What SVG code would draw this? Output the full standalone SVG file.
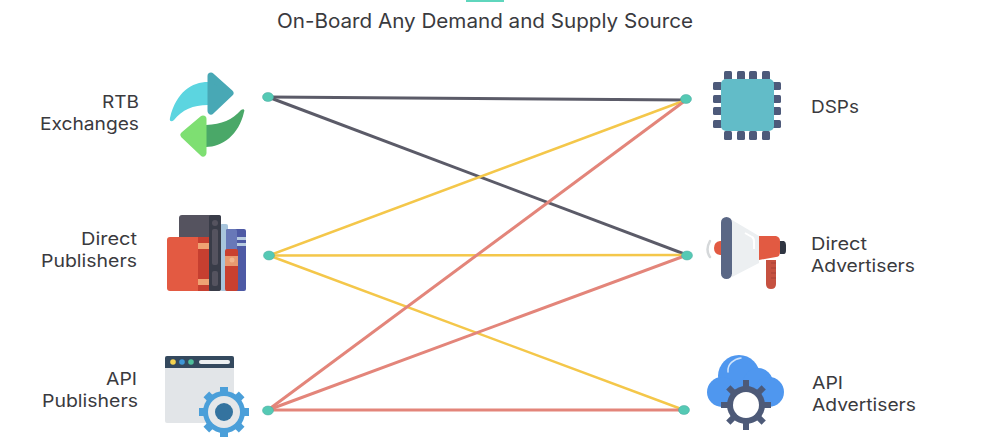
<svg xmlns="http://www.w3.org/2000/svg" width="1000" height="445" viewBox="0 0 1000 445">
<style>
text{font-family:Inter,"Open Sans","Liberation Sans",sans-serif;fill:#3a3a3e}
.t{font-size:17.500px}
.c{fill:none;stroke-width:2.500}
.g{stroke:#5b5b68;stroke-width:3}.y{stroke:#f4c74a}.r{stroke:#e3857a;stroke-width:3}
.d{fill:#55c9b4;stroke:#4aa8a0;stroke-width:.5}
.pin{fill:#4d5a7a}
</style>
<rect width="1000" height="445" fill="#fff"/>
<rect x="466" y="0" width="38" height="2" fill="#5fd6bd"/>
<text id="title" x="277" y="28" font-size="20" textLength="416" lengthAdjust="spacingAndGlyphs">On-Board Any Demand and Supply Source</text>
<g id="connectors">
<line class="c g" x1="268" y1="97" x2="686" y2="100"/>
<line class="c g" x1="268" y1="97" x2="687" y2="255"/>
<line class="c y" x1="269" y1="255.500" x2="686" y2="100"/>
<line class="c y" x1="269" y1="255.500" x2="687" y2="255"/>
<line class="c y" x1="269" y1="255.500" x2="684" y2="410"/>
<line class="c r" x1="268" y1="410" x2="686" y2="100"/>
<line class="c r" x1="268" y1="410" x2="687" y2="255"/>
<line class="c r" x1="268" y1="410" x2="684" y2="410"/>
<ellipse class="d" cx="268" cy="97" rx="5.500" ry="4.500"/>
<ellipse class="d" cx="269" cy="255.500" rx="5.500" ry="4.500"/>
<ellipse class="d" cx="268" cy="410.500" rx="5.500" ry="4.500"/>
<ellipse class="d" cx="686" cy="99" rx="5.500" ry="4.500"/>
<ellipse class="d" cx="687" cy="255.500" rx="5.500" ry="4.500"/>
<ellipse class="d" cx="684" cy="410" rx="5.500" ry="4.500"/>
</g>
<g id="rtb">
<text class="t" x="102" y="108" textLength="37" lengthAdjust="spacingAndGlyphs">RTB</text>
<text class="t" x="40" y="130" textLength="99" lengthAdjust="spacingAndGlyphs">Exchanges</text>
<path d="M208 82C192 82 176 92 170 118C169 122 172 122 174 120C182 110 193 105 208 105Z" fill="#5cd5e0"/>
<path d="M211 76L230 93L211 111Z" fill="#48a8b5" stroke="#48a8b5" stroke-width="7" stroke-linejoin="round"/>
<path d="M206 125C222 124 232 120 241 110C244 108 245 110 244 112C239 135 222 147 206 147Z" fill="#4aa868"/>
<path d="M203 119L184 135L203 153Z" fill="#7edf72" stroke="#7edf72" stroke-width="7" stroke-linejoin="round"/>
</g>
<g id="direct-publishers">
<text class="t" x="81" y="245" textLength="56" lengthAdjust="spacingAndGlyphs">Direct</text>
<text class="t" x="41" y="267" textLength="96" lengthAdjust="spacingAndGlyphs">Publishers</text>
<rect x="220" y="224" width="8" height="67" rx="2" fill="#a8c5dc"/>
<rect x="226" y="229" width="20" height="62" rx="2" fill="#4e5aa5"/>
<rect x="226" y="229" width="11" height="62" rx="2" fill="#6878b8"/>
<rect x="237" y="237" width="9" height="3" fill="#b8cce0"/><rect x="237" y="243" width="9" height="3" fill="#b8cce0"/>
<rect x="225" y="249" width="13" height="42" rx="2" fill="#c9402f"/>
<rect x="225" y="256" width="13" height="10" fill="#e89a70"/>
<circle cx="232" cy="260" r="2.500" fill="#f2b58d"/>
<rect x="179" y="215" width="42" height="76" rx="3" fill="#55535f"/>
<rect x="209" y="215" width="12" height="76" rx="2" fill="#393c48"/>
<circle cx="215" cy="223" r="3" fill="#55535f"/>
<rect x="212" y="229" width="6" height="36" rx="2" fill="#55535f"/>
<rect x="212" y="271" width="6" height="15" rx="2" fill="#55535f"/>
<rect x="167" y="237" width="42" height="54" rx="3" fill="#e35a42"/>
<rect x="198" y="237" width="11" height="54" fill="#c63f30"/>
<rect x="198" y="243" width="11" height="6" fill="#efa373"/>
<rect x="198" y="279" width="11" height="6" fill="#efa373"/>
</g>
<g id="api-publishers">
<text class="t" x="106" y="385" textLength="31" lengthAdjust="spacingAndGlyphs">API</text>
<text class="t" x="42" y="407" textLength="96" lengthAdjust="spacingAndGlyphs">Publishers</text>
<rect x="165" y="356" width="69" height="67" rx="2" fill="#e2e5e8"/>
<path d="M165 368V358Q165 356 167 356H232Q234 356 234 358V368Z" fill="#34495e"/>
<circle cx="173" cy="362" r="2.800" fill="#f5d34f"/>
<circle cx="182" cy="362" r="2.800" fill="#3d96d6"/>
<circle cx="191" cy="362" r="2.800" fill="#4ebf9b"/>
<rect x="199" y="360" width="31" height="4" rx="2" fill="#eceff1"/>
<g id="gear-blue" transform="translate(224 412)">
<circle r="21" fill="#4b9fd9"/>
<g fill="#4b9fd9"><rect x="-4" y="-25" width="8" height="50"/><rect x="-4" y="-25" width="8" height="50" transform="rotate(45)"/><rect x="-4" y="-25" width="8" height="50" transform="rotate(90)"/><rect x="-4" y="-25" width="8" height="50" transform="rotate(135)"/></g>
<circle r="16" fill="#e5e7e9"/><circle r="9" fill="#34739f"/>
</g>
</g>
<g id="dsps">
<text class="t" x="811" y="113" textLength="48" lengthAdjust="spacingAndGlyphs">DSPs</text>
<rect class="pin" x="724" y="71" width="8" height="9" rx="1.500"/><rect class="pin" x="737" y="71" width="8" height="9" rx="1.500"/><rect class="pin" x="749" y="71" width="8" height="9" rx="1.500"/><rect class="pin" x="762" y="71" width="8" height="9" rx="1.500"/>
<rect class="pin" x="724" y="131" width="8" height="9" rx="1.500"/><rect class="pin" x="737" y="131" width="8" height="9" rx="1.500"/><rect class="pin" x="749" y="131" width="8" height="9" rx="1.500"/><rect class="pin" x="762" y="131" width="8" height="9" rx="1.500"/>
<rect class="pin" x="713" y="82" width="9" height="8" rx="1.500"/><rect class="pin" x="713" y="95" width="9" height="8" rx="1.500"/><rect class="pin" x="713" y="107" width="9" height="8" rx="1.500"/><rect class="pin" x="713" y="120" width="9" height="8" rx="1.500"/>
<rect class="pin" x="772" y="82" width="9" height="8" rx="1.500"/><rect class="pin" x="772" y="95" width="9" height="8" rx="1.500"/><rect class="pin" x="772" y="107" width="9" height="8" rx="1.500"/><rect class="pin" x="772" y="120" width="9" height="8" rx="1.500"/>
<rect x="721" y="79" width="53" height="52" rx="5" fill="#62bcc8"/>
</g>
<g id="direct-advertisers">
<text class="t" x="811" y="250" textLength="56" lengthAdjust="spacingAndGlyphs">Direct</text>
<text class="t" x="811" y="272" textLength="104" lengthAdjust="spacingAndGlyphs">Advertisers</text>
<path d="M710 241Q705 250 710 257" fill="none" stroke="#d5d8da" stroke-width="2.500" stroke-linecap="round"/>
<path d="M723 241H720Q714 242 714 248Q714 254 720 255H723Z" fill="#e25a42"/>
<rect x="721" y="217" width="11" height="62" rx="5.500" fill="#5a6785"/>
<path d="M732 220L759 236V263L732 277Z" fill="#eceff1"/>
<path d="M745 233L752 237Q754 238 754 242V249" fill="none" stroke="#fff" stroke-width="2" stroke-linejoin="round"/>
<path d="M759 236H776Q780 237 780 241V252Q780 257 776 257L759 260Z" fill="#e25a42"/>
<path d="M780 241H784Q786 242 786 245V250Q786 254 784 254H780Z" fill="#2f3542"/>
<path d="M766 260H776V284Q776 289 771 289Q766 289 766 284Z" fill="#c65140"/>
<path d="M771 263H776M771 268H776M771 273H776M771 278H776" stroke="#a84336" stroke-width="1.200" fill="none"/>
</g>
<g id="api-advertisers">
<text class="t" x="812" y="389" textLength="31" lengthAdjust="spacingAndGlyphs">API</text>
<text class="t" x="812" y="411" textLength="104" lengthAdjust="spacingAndGlyphs">Advertisers</text>
<g fill="#4f97ef"><circle cx="739" cy="376" r="21"/><circle cx="758" cy="383" r="15"/><circle cx="722" cy="392" r="15"/><circle cx="769" cy="392" r="15"/><rect x="722" y="385" width="47" height="22"/></g>
<path d="M728 372C727 364 734 359 741 358" fill="none" stroke="#cfe3fb" stroke-width="1.500" stroke-linecap="round"/>
<g id="gear-dark" transform="translate(746 405)">
<circle r="19" fill="#4d5a78"/>
<g fill="#4d5a78"><rect x="-3" y="-25" width="6" height="50"/><rect x="-3" y="-25" width="6" height="50" transform="rotate(45)"/><rect x="-3" y="-25" width="6" height="50" transform="rotate(90)"/><rect x="-3" y="-25" width="6" height="50" transform="rotate(135)"/></g>
<circle r="13" fill="#fff"/>
</g>
</g>
</svg>
